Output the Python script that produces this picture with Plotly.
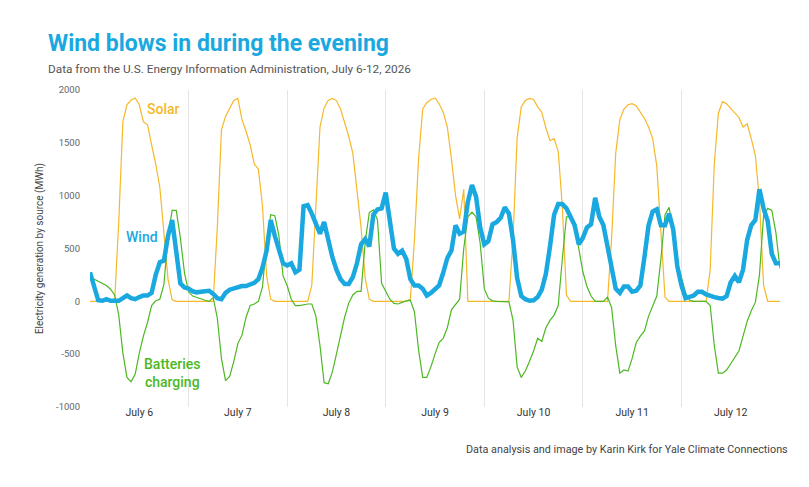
import pandas as pd
import plotly.graph_objects as go

# hourly readings, July 6 00:00 through July 13 00:00 (MWh)
solar = [
    0, 0, 0, 0, 0, 0, 0, 750, 1700, 1860, 1905, 1925, 1860, 1700, 1670, 1480, 1300, 1080, 650, 210, 15, 0, 0, 0,  # July 6
    0, 0, 0, 0, 0, 0, 0, 700, 1620, 1750, 1830, 1900, 1920, 1720, 1610, 1480, 1300, 1250, 900, 240, 20, 0, 0, 0,  # July 7
    0, 0, 0, 0, 0, 0, 150, 900, 1650, 1830, 1900, 1920, 1900, 1820, 1690, 1560, 1400, 1060, 700, 220, 20, 0, 0, 0,  # July 8
    0, 0, 0, 0, 0, 0, 20, 580, 1350, 1820, 1880, 1910, 1925, 1870, 1790, 1650, 1350, 1000, 780, 1060, 0, 0, 0, 0,  # July 9
    0, 0, 0, 0, 0, 0, 0, 600, 1550, 1840, 1900, 1920, 1910, 1840, 1790, 1640, 1520, 1540, 1420, 900, 60, 0, 0, 0,  # July 10
    0, 0, 0, 0, 0, 0, 0, 600, 1400, 1720, 1820, 1860, 1870, 1850, 1790, 1730, 1650, 1540, 1280, 600, 40, 0, 0, 0,  # July 11
    0, 0, 0, 0, 0, 0, 0, 300, 1300, 1780, 1890, 1870, 1830, 1790, 1740, 1650, 1680, 1540, 1380, 950, 150, 0, 0, 0,  # July 12
    0,
]

wind = [
    275, 150, 10, 5, 20, 5, 0, 5, 30, 55, 30, 20, 40, 55, 55, 80, 250, 370, 385, 620, 770, 470, 170, 130,
    120, 95, 85, 90, 95, 100, 70, 30, 20, 80, 110, 125, 135, 145, 145, 160, 175, 210, 320, 480, 770, 620, 470, 360,
    340, 360, 275, 300, 900, 910, 830, 720, 640, 750, 560, 420, 300, 210, 165, 165, 230, 360, 540, 590, 520, 820, 870, 880,
    1030, 760, 500, 450, 480, 400, 210, 150, 150, 120, 55, 80, 110, 150, 270, 410, 480, 720, 640, 660, 940, 1100, 990, 700,
    540, 570, 730, 750, 790, 890, 830, 580, 220, 50, 20, 5, 10, 40, 110, 260, 520, 820, 920, 920, 880, 810, 720, 540,
    600, 700, 730, 980, 800, 720, 530, 310, 120, 80, 140, 140, 90, 100, 150, 420, 720, 850, 870, 720, 720, 830, 680, 330,
    150, 30, 40, 55, 90, 90, 65, 50, 40, 32, 25, 50, 180, 240, 180, 300, 580, 720, 770, 1060, 880, 760, 450, 360,
    360,
]

batteries = [
    230, 210, 185, 165, 150, 115, 60, -130, -490, -720, -760, -690, -490, -330, -200, -40, 5, 20, 160, 620, 860, 860, 600, 270,
    90, 50, 35, 20, 10, 0, 35, -160, -540, -750, -710, -570, -400, -320, -150, -40, -25, 0, 140, 560, 820, 810, 620, 240,
    150, 20, -40, -40, -30, -25, -25, -140, -420, -770, -780, -670, -500, -330, -150, -15, 60, 95, 95, 560, 840, 865, 770, 170,
    100, 20, -20, -25, -10, 5, 10, -100, -460, -720, -720, -620, -500, -390, -350, -250, -80, -30, 20, 500, 800, 845, 800, 550,
    120, 30, 5, 0, 0, 0, -5, -180, -620, -720, -660, -570, -470, -350, -380, -250, -180, -130, -40, 400, 800, 800, 720, 500,
    280, 140, 50, 0, 0, 0, 40, -60, -420, -680, -650, -660, -540, -390, -330, -280, -140, -40, 50, 400, 820, 890, 660, 370,
    220, 80, 10, 0, 0, 0, 0, -40, -420, -680, -680, -650, -590, -520, -470, -330, -190, -90, -10, 250, 810, 880, 860, 650,
    310,
]

hours = pd.date_range("2026-07-06", periods=len(wind), freq="h")

y_ticks = [-1000, -500, 0, 500, 1000, 1500, 2000]
y_tick_text = ["-1000", "-500", "0", "500", "1000", "1500", "2000"]

FONT = "Roboto, Liberation Sans, Arial, sans-serif"
BLUE = "#1aa8e0"
SOLAR = "#f5b82a"
GREEN = "#4db823"

fig = go.Figure()
fig.add_trace(go.Scatter(x=hours, y=solar, mode="lines", name="Solar",
                         line=dict(color=SOLAR, width=1.2)))
fig.add_trace(go.Scatter(x=hours, y=batteries, mode="lines", name="Batteries charging",
                         line=dict(color=GREEN, width=1.2)))
fig.add_trace(go.Scatter(x=hours, y=wind, mode="lines", name="Wind",
                         line=dict(color=BLUE, width=4.5)))

# the page body adds an 8px offset, so margins are set 8px short at left/top
fig.update_layout(
    width=809,
    height=487,
    margin=dict(l=82, r=37, t=82, b=88),
    plot_bgcolor="white",
    paper_bgcolor="white",
    showlegend=False,
    font=dict(family=FONT, color="#444444"),
)

fig.update_xaxes(
    range=["2026-07-06", "2026-07-13"],
    tickmode="linear",
    tick0="2026-07-06",
    dtick=86400000,
    ticklabelmode="period",
    tickformat="%B %-d",
    tickfont=dict(size=10.5, color="#333333"),
    ticklabelstandoff=-3,
    showgrid=True,
    gridcolor="#e4e4e4",
    gridwidth=1,
    zeroline=False,
    showline=False,
    ticks="",
    automargin=False,
)

fig.update_yaxes(
    range=[-1000, 2000],
    tickvals=y_ticks,
    ticktext=y_tick_text,
    tickfont=dict(size=9.5, color="#666666"),
    ticklabelstandoff=9,
    showgrid=False,
    zeroline=False,
    showline=False,
    ticks="",
    automargin=False,
    title=dict(text="Electricity generation by source (MWh)",
               font=dict(size=10, color="#444444"), standoff=10),
)

# title, subtitle and credit
fig.add_annotation(xref="paper", yref="paper", x=-0.064, y=1.148, xanchor="left", yanchor="middle",
                   text="<b>Wind blows in during the evening</b>", showarrow=False,
                   font=dict(size=23, color=BLUE))
fig.add_annotation(xref="paper", yref="paper", x=-0.064, y=1.066, xanchor="left", yanchor="middle",
                   text="Data from the U.S. Energy Information Administration, July 6-12, 2026", showarrow=False,
                   font=dict(size=11.8, color="#555555"))
fig.add_annotation(xref="paper", yref="paper", x=1.0145, y=-0.1325, xanchor="right", yanchor="middle",
                   text="Data analysis and image by Karin Kirk for Yale Climate Connections", showarrow=False,
                   font=dict(size=10.8, color="#444444"))

# series labels
fig.add_annotation(x="2026-07-06 17:54", y=1819, text="Solar", showarrow=False,
                   font=dict(size=14, color=SOLAR, weight=500))
fig.add_annotation(x="2026-07-06 12:35", y=605, text="Wind", showarrow=False,
                   font=dict(size=14, color=BLUE, weight=500))
fig.add_annotation(x="2026-07-06 20:05", y=-677, text="Batteries<br>charging", showarrow=False,
                   font=dict(size=14, color=GREEN, weight=500))

fig.write_html("out.html")
